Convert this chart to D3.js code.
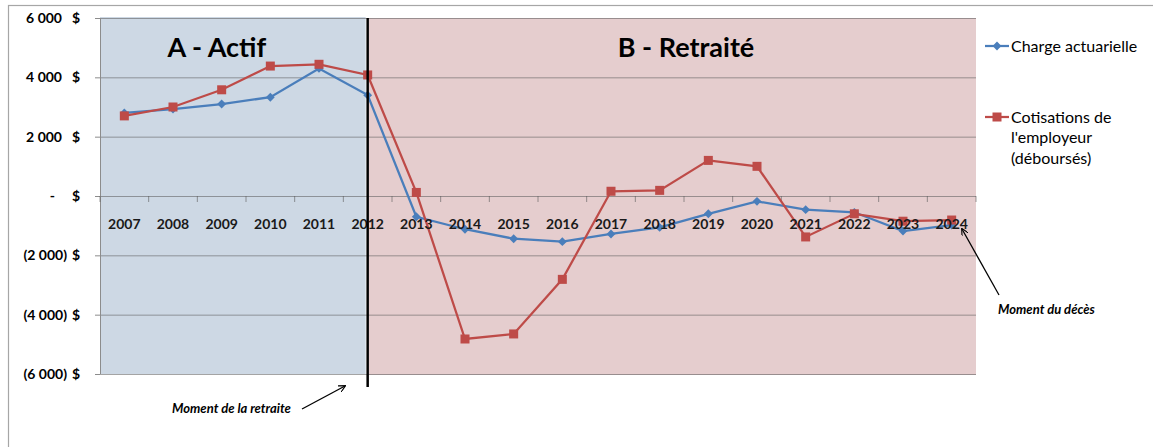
<!DOCTYPE html>
<html>
<head>
<meta charset="utf-8">
<script src="https://cdn.jsdelivr.net/npm/d3@7"></script>
<style>
  body { margin: 0; background: #fff; }
  text { font-family: Lato, "Open Sans", sans-serif; }
</style>
</head>
<body>
<div class="chart"></div>
<script>
var width = 1153, height = 447;
var plot = {left: 100, right: 976, top: 18, bottom: 374};

// data
var years = ["2007","2008","2009","2010","2011","2012","2013","2014","2015",
             "2016","2017","2018","2019","2020","2021","2022","2023","2024"];
var charge = [2800, 2930, 3100, 3330, 4300, 3400, -700, -1120, -1440,
              -1540, -1280, -1060, -600, -180, -460, -550, -1180, -980];
var cotisations = [2700, 3000, 3580, 4380, 4440, 4080, 120, -4820, -4650,
                   -2810, 160, 190, 1200, 1000, -1380, -600, -850, -810];
var yTicks = [6000, 4000, 2000, 0, -2000, -4000, -6000];
var retireYear = "2012";

var svg = d3.select(".chart").append("svg")
            .attr("width", width)
            .attr("height", height);

// outer frame
svg.append("rect")
   .attr("x", 8.5).attr("y", 5.5)
   .attr("width", 1200).attr("height", 500)
   .attr("fill", "none")
   .attr("stroke", "#a6a6a6")
   .attr("stroke-width", 1.2);

var x = d3.scaleBand().domain(years).range([plot.left, plot.right]);
var y = d3.scaleLinear().domain([-6000, 6000]).range([plot.bottom, plot.top]);
var bw = x.bandwidth();
var splitX = x(retireYear) + bw / 2;

// phase backgrounds
svg.append("rect")
   .attr("x", plot.left).attr("y", plot.top - 1)
   .attr("width", splitX - 2 - plot.left).attr("height", plot.bottom - plot.top + 1)
   .attr("fill", "#cdd8e4");
svg.append("rect")
   .attr("x", splitX + 1).attr("y", plot.top)
   .attr("width", plot.right - splitX - 1).attr("height", plot.bottom - plot.top + 1)
   .attr("fill", "#e5cdce");

// gridlines
svg.selectAll(".grid")
   .data(yTicks)
   .enter()
   .append("line")
   .attr("x1", plot.left).attr("x2", plot.right)
   .attr("y1", function(d) { return y(d) + 0.5; })
   .attr("y2", function(d) { return y(d) + 0.5; })
   .attr("stroke", "rgba(90,90,90,0.55)")
   .attr("stroke-width", 1);

// y axis line + ticks
svg.append("g")
   .attr("transform", "translate(" + plot.left + ",0)")
   .call(d3.axisLeft(y).tickValues(yTicks).tickSize(5).tickFormat(""))
   .call(function(g) {
     g.selectAll("line").attr("stroke", "#8c8c8c");
     g.select(".domain").attr("stroke", "#8c8c8c").attr("d", "M0.5," + plot.top + "V" + plot.bottom);
   });

// y labels, accounting style
function yNumber(v) {
  if (v == 0) return "-";
  var s = d3.format(",")(Math.abs(v)).replace(/,/g, " ");
  return v < 0 ? "(" + s + ")" : s;
}
var yLab = svg.append("g").attr("font-weight", "bold").attr("font-size", 14).attr("fill", "#000");
yLab.selectAll(".num")
    .data(yTicks)
    .enter()
    .append("text")
    .attr("x", function(d) { return d == 0 ? 55 : (d < 0 ? 67 : 62); })
    .attr("y", function(d) { return y(d) + 5; })
    .attr("text-anchor", "end")
    .text(yNumber);
yLab.selectAll(".cur")
    .data(yTicks)
    .enter()
    .append("text")
    .attr("x", 80)
    .attr("y", function(d) { return y(d) + 5; })
    .attr("text-anchor", "end")
    .text("$");

// x axis ticks on zero line
svg.append("g")
   .attr("transform", "translate(0," + y(0) + ")")
   .selectAll(".sep")
   .data(d3.range(years.length + 1))
   .enter()
   .append("line")
   .attr("x1", function(i) { return plot.left + i * bw; })
   .attr("x2", function(i) { return plot.left + i * bw; })
   .attr("y1", 0).attr("y2", 6)
   .attr("stroke", "rgba(90,90,90,0.6)");

// phase titles
svg.append("text")
   .attr("x", (plot.left + splitX) / 2 - 17).attr("y", 57)
   .attr("text-anchor", "middle")
   .attr("font-size", 27).attr("font-weight", "bold")
   .text("A - Actif");
svg.append("text")
   .attr("x", 686).attr("y", 57)
   .attr("text-anchor", "middle")
   .attr("font-size", 27).attr("font-weight", "bold")
   .text("B - Retraité");

// series
var line = d3.line()
             .x(function(d, i) { return x(years[i]) + bw / 2; })
             .y(function(d) { return y(d); });

svg.append("path")
   .datum(charge)
   .attr("d", line)
   .attr("fill", "none")
   .attr("stroke", "#4a7ebb")
   .attr("stroke-width", 2.25);
svg.selectAll(".diamond")
   .data(charge)
   .enter()
   .append("path")
   .attr("d", d3.symbol().type(d3.symbolDiamond2).size(50))
   .attr("transform", function(d, i) { return "translate(" + (x(years[i]) + bw / 2) + "," + y(d) + ")"; })
   .attr("fill", "#4a7ebb");

svg.append("path")
   .datum(cotisations)
   .attr("d", line)
   .attr("fill", "none")
   .attr("stroke", "#be4b48")
   .attr("stroke-width", 2.25);
svg.selectAll(".square")
   .data(cotisations)
   .enter()
   .append("rect")
   .attr("x", function(d, i) { return x(years[i]) + bw / 2 - 4.5; })
   .attr("y", function(d) { return y(d) - 4.5; })
   .attr("width", 9).attr("height", 9)
   .attr("fill", "#be4b48");

// year labels
svg.selectAll(".year")
   .data(years)
   .enter()
   .append("text")
   .attr("x", function(d) { return x(d) + bw / 2; })
   .attr("y", y(0) + 33)
   .attr("text-anchor", "middle")
   .attr("font-size", 14).attr("font-weight", "bold")
   .attr("fill", "#1a1a1a")
   .text(function(d) { return d; });

// retirement line
svg.append("line")
   .attr("x1", splitX).attr("x2", splitX)
   .attr("y1", plot.top).attr("y2", 387)
   .attr("stroke", "#000")
   .attr("stroke-width", 2.5);

// legend
var legend = svg.append("g").attr("font-size", 16).attr("fill", "#000");
legend.append("line").attr("x1", 985).attr("x2", 1009).attr("y1", 46).attr("y2", 46)
      .attr("stroke", "#4a7ebb").attr("stroke-width", 2.25);
legend.append("path").attr("d", d3.symbol().type(d3.symbolDiamond2).size(50))
      .attr("transform", "translate(997,46)").attr("fill", "#4a7ebb");
legend.append("text").attr("x", 1011).attr("y", 51.5).text("Charge actuarielle");
legend.append("line").attr("x1", 985).attr("x2", 1009).attr("y1", 117).attr("y2", 117)
      .attr("stroke", "#be4b48").attr("stroke-width", 2.25);
legend.append("rect").attr("x", 992.5).attr("y", 112.5).attr("width", 9).attr("height", 9)
      .attr("fill", "#be4b48");
["Cotisations de", "l'employeur", "(déboursés)"].forEach(function(t, i) {
  legend.append("text").attr("x", 1011).attr("y", 122.5 + i * 20.7).text(t);
});

// annotations
svg.append("defs").append("marker")
   .attr("id", "arrow")
   .attr("viewBox", "0 0 10 10")
   .attr("refX", 9).attr("refY", 5)
   .attr("markerWidth", 7).attr("markerHeight", 7)
   .attr("markerUnits", "userSpaceOnUse")
   .attr("orient", "auto")
   .append("path")
   .attr("d", "M0,0 L10,5 L0,10")
   .attr("fill", "none")
   .attr("stroke", "#000")
   .attr("stroke-width", 1.6);

svg.append("text")
   .attr("x", 172).attr("y", 412.5)
   .attr("font-size", 13).attr("font-weight", "bold").attr("font-style", "italic")
   .text("Moment de la retraite");
svg.append("line")
   .attr("x1", 302).attr("y1", 409).attr("x2", 345).attr("y2", 386)
   .attr("stroke", "#000").attr("stroke-width", 1.3)
   .attr("marker-end", "url(#arrow)");

svg.append("text")
   .attr("x", 998).attr("y", 313.5)
   .attr("font-size", 13).attr("font-weight", "bold").attr("font-style", "italic")
   .text("Moment du décès");
svg.append("line")
   .attr("x1", 999).attr("y1", 295).attr("x2", 962).attr("y2", 229)
   .attr("stroke", "#000").attr("stroke-width", 1.3)
   .attr("marker-end", "url(#arrow)");
</script>
</body>
</html>
